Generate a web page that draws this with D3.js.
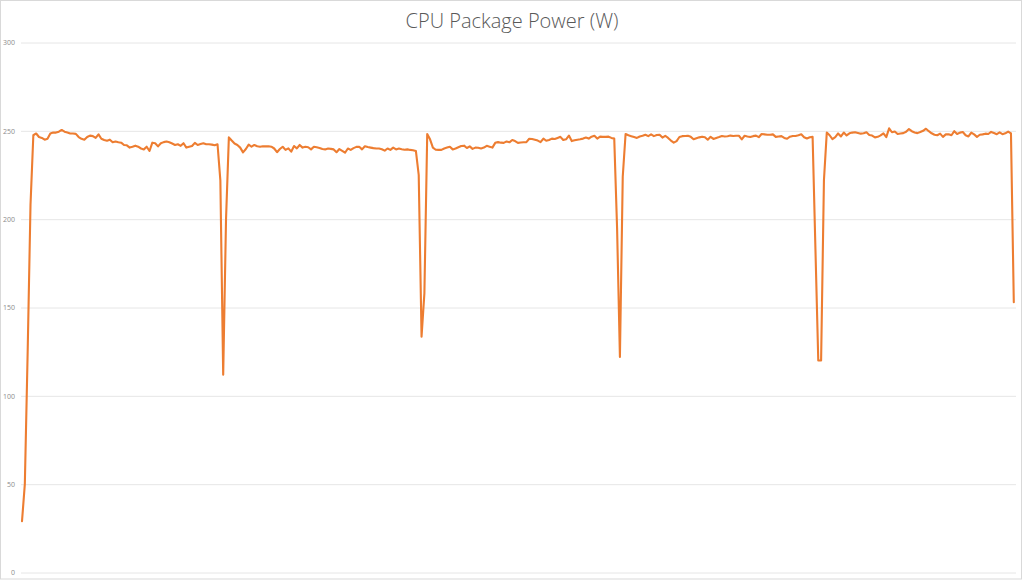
<!DOCTYPE html>
<html>
<head>
<meta charset="utf-8">
<script src="https://cdn.jsdelivr.net/npm/d3@7"></script>
<style>
  html, body { margin: 0; padding: 0; background: #ffffff; }
  svg { display: block; }
</style>
</head>
<body>
<svg id="chart" width="1024" height="581"></svg>
<script>
const chartTitle = "CPU Package Power (W)";
const yTicks = [0, 50, 100, 150, 200, 250, 300];
// CPU package power samples (W), in time order
const power = [
  29, 50, 125, 208, 247.5, 248.5, 246.5, 246, 245, 245.5,
  248.5, 249, 249, 249.5, 250.5, 249.5, 249, 248.5, 248.5, 248.3,
  246.5, 245.5, 245, 246.5, 247.3, 247, 246, 248, 245.5, 244.8,
  244.4, 245, 243.5, 244, 243.5, 243.3, 242, 241.8, 240.5, 241,
  241.6, 241, 240, 239.5, 241, 238.6, 243.3, 243, 241.2, 243,
  243.6, 244, 243.5, 242.8, 242, 242.4, 241.5, 243, 240.5, 241,
  241.4, 243.2, 242, 242.5, 243, 242.4, 242.4, 242.2, 241.8, 242.4,
  222, 112, 200, 246.3, 244.5, 242.8, 242, 240.5, 237.8, 239.7,
  242.2, 241, 242, 241.3, 241, 241.3, 241.2, 241.3, 241, 240,
  237.9, 239.7, 241, 239.2, 240.1, 238.2, 241.4, 240.1, 242, 240.5,
  241, 240.7, 239.5, 241, 240.7, 240.3, 239.7, 239.5, 240, 239.8,
  239.5, 237.9, 239.7, 238.7, 237.6, 240, 239.2, 240.2, 240.9, 241,
  239.5, 241.3, 240.8, 240.5, 240.2, 240, 240, 239.6, 238.8, 240,
  239.2, 240.5, 239.5, 240, 239.6, 239.3, 239.5, 239.2, 239, 238.6,
  225, 133.5, 158, 248.2, 245.2, 240.5, 239.3, 239.2, 239.2, 240,
  240.5, 241, 239.5, 240, 240.7, 241.4, 241.6, 240.3, 241.2, 239.8,
  240.5, 240.4, 240, 240.5, 241.5, 241, 240.5, 243.2, 243.6, 243.3,
  243.2, 244, 243.5, 244.8, 244.2, 243.2, 243.4, 243.5, 243.6, 245.5,
  245.4, 245, 244.5, 243.6, 245.6, 244.4, 244.8, 245.6, 245.4, 246,
  246.6, 244.8, 245.2, 247.3, 244.2, 244.7, 245, 245.2, 245.6, 246.2,
  245.6, 246.7, 247.2, 245.6, 246.7, 246.6, 246.6, 246.7, 246, 245.6,
  195, 122, 224, 248.2, 247.5, 247, 246.5, 246, 246.8, 247.2,
  247.8, 247, 248, 247, 247.6, 247.8, 246.2, 247.2, 246, 244.5,
  243.3, 244.2, 246.5, 247, 247.1, 247.2, 246.6, 245.2, 245.8, 246.3,
  246.7, 246.4, 245, 246.6, 245.4, 246, 246.5, 247.1, 246.8, 246.9,
  247.3, 247.1, 247.2, 247.2, 245.2, 247.2, 246.8, 246.5, 247, 247.3,
  246.4, 248.2, 248, 247.8, 247.8, 248, 246.6, 246.8, 247, 246,
  245.5, 246.7, 247.1, 247.1, 247.5, 248, 246.4, 245.7, 246.4, 246.6,
  183, 120, 120, 222, 249, 247.5, 245.3, 246.4, 248.5, 246.8,
  249, 247.4, 248.6, 249, 249.2, 248.8, 248.4, 248.6, 249.2, 247.7,
  247.3, 246.3, 246.6, 247.4, 248.6, 246.4, 251.4, 249.2, 249.6, 248.2,
  248.5, 248.7, 249.5, 251, 249.8, 249.1, 248.7, 249.3, 250, 251.2,
  249.8, 248.6, 247.8, 247.5, 248.4, 246.6, 248, 248.1, 247.5, 249.8,
  248.2, 249, 249.3, 247.5, 246.8, 249, 248, 246.6, 247.8, 248,
  248.4, 248.2, 249.4, 248.8, 248.1, 249.1, 248.1, 248.6, 249.6, 248.5,
  153
];

const svg = d3.select("#chart");
const W = 1024, H = 581;

// chart-area border
svg.append("rect")
  .attr("x", 0.5).attr("y", 0.5)
  .attr("width", 1021).attr("height", 578.5)
  .attr("fill", "#ffffff")
  .attr("stroke", "#d9d9d9")
  .attr("stroke-width", 1);

const plot = { left: 21, right: 1016, top: 42.5, bottom: 572.5 };

const x = d3.scaleLinear()
  .domain([0, power.length - 1])
  .range([22, 1013.8]);

const y = d3.scaleLinear()
  .domain([0, 300])
  .range([plot.bottom, plot.top]);

// y axis with gridlines
const yAxis = d3.axisLeft(y)
  .tickValues(yTicks)
  .tickSize(-(plot.right - plot.left))
  .tickPadding(6)
  .tickFormat(d3.format("d"));

const gy = svg.append("g")
  .attr("transform", `translate(${plot.left},0)`)
  .call(yAxis);
gy.select(".domain").remove();
gy.selectAll(".tick line")
  .attr("stroke", "#e6e6e6")
  .attr("stroke-width", 1);
gy.selectAll(".tick text")
  .attr("fill", "#8c8c8c")
  .style("font-family", "'Open Sans', 'Liberation Sans', sans-serif")
  .style("font-size", "7px");

// title
svg.append("text")
  .attr("x", 512)
  .attr("y", 28)
  .attr("text-anchor", "middle")
  .attr("fill", "#595959")
  .style("font-family", "'Open Sans', 'Liberation Sans', sans-serif")
  .style("font-weight", "300")
  .style("font-size", "20px")
  .text(chartTitle);

// line
const line = d3.line()
  .x((d, i) => x(i))
  .y(d => y(d));

svg.append("path")
  .datum(power)
  .attr("fill", "none")
  .attr("stroke", "#ED7D31")
  .attr("stroke-width", 2.1)
  .attr("stroke-linejoin", "round")
  .attr("stroke-linecap", "round")
  .attr("d", line);
</script>
</body>
</html>
